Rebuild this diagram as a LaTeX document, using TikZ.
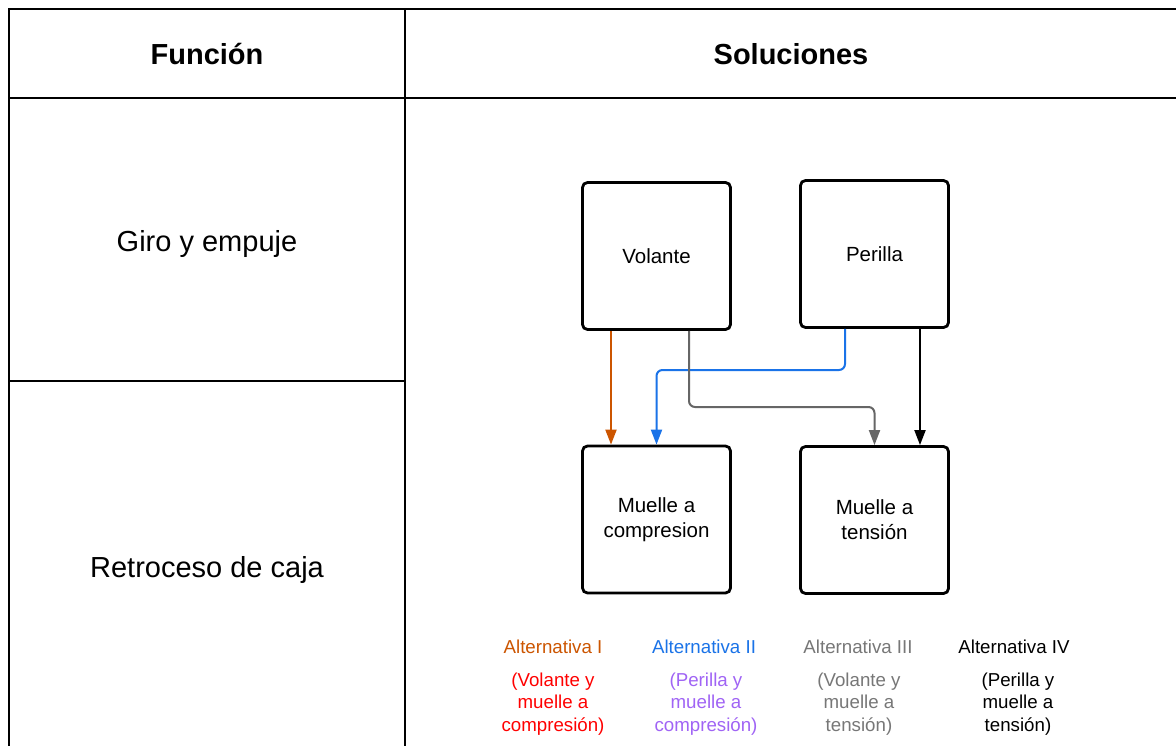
\documentclass[tikz,border=0pt]{standalone}
\usepackage{fontspec}
\setmainfont{Liberation Sans}
\usetikzlibrary{arrows.meta}
\definecolor{altone}{RGB}{204,85,0}
\definecolor{alttwo}{RGB}{26,115,232}
\definecolor{altthree}{RGB}{102,102,102}
\definecolor{txtred}{RGB}{255,0,0}
\definecolor{txtpurple}{RGB}{160,100,245}
\definecolor{txtgray}{RGB}{119,119,119}

\begin{document}
\begin{tikzpicture}[x=1pt,y=-1pt,>={Triangle[length=15pt,width=11pt]},
  box/.style={draw,line width=2.8pt,rounded corners=5pt,minimum width=148pt,minimum height=147pt,align=center,font=\fontsize{20.5}{25}\selectfont},
  link/.style={line width=2pt,rounded corners=6pt,->},
  alt/.style={font=\fontsize{18.7}{22.5}\selectfont},
  note/.style={align=center,font=\fontsize{18.7}{22.5}\selectfont}]
  \useasboundingbox[fill=white] (0,0) rectangle (1176,746);
  % table lines
  \draw[line width=2pt] (9,746) -- (9,9) -- (1176,9);
  \draw[line width=2pt] (9,98) -- (1176,98);
  \draw[line width=2pt] (405,9) -- (405,746);
  \draw[line width=2pt] (9,381) -- (405,381);
  \node[font=\fontsize{29}{34}\selectfont\bfseries] (hfun) at (207,54) {Función};
  \node[font=\fontsize{29}{34}\selectfont\bfseries] (hsol) at (791,54) {Soluciones};
  \node[font=\fontsize{29}{34}\selectfont] (giro) at (207,244) {Giro y empuje};
  \node[font=\fontsize{29}{34}\selectfont] (retro) at (207,570) {Retroceso de caja};
  % boxes
  \node[box] (vol) at (656.5,256) {Volante};
  \node[box] (per) at (874.5,254) {Perilla};
  \node[box] (compr) at (656.5,519.5) {Muelle a\\compresion};
  \node[box] (tens) at (874.5,520) {Muelle a\\tensión};
  % alternatives
  \draw[link,altone] ([xshift=-45.5pt]vol.south) -- ([xshift=-45.5pt]compr.north);
  \draw[link,alttwo] ([xshift=-29.5pt]per.south) |- (720,370) -| (compr.north);
  \draw[link,altthree] ([xshift=32.5pt]vol.south) |- (800,407) -| (tens.north);
  \draw[link,black] ([xshift=45.5pt]per.south) -- ([xshift=45.5pt]tens.north);
  \node[alt,altone] (a1) at (553,647) {Alternativa I};
  \node[alt,alttwo] (a2) at (704,647) {Alternativa II};
  \node[alt,txtgray] (a3) at (858,647) {Alternativa III};
  \node[alt,black] (a4) at (1014,647) {Alternativa IV};
  \node[note,txtred] (n1) at (553,704) {(Volante y\\muelle a\\compresión)};
  \node[note,txtpurple] (n2) at (706,704) {(Perilla y\\muelle a\\compresión)};
  \node[note,txtgray] (n3) at (859,704) {(Volante y\\muelle a\\tensión)};
  \node[note,black] (n4) at (1018,704) {(Perilla y\\muelle a\\tensión)};
\end{tikzpicture}
\end{document}
